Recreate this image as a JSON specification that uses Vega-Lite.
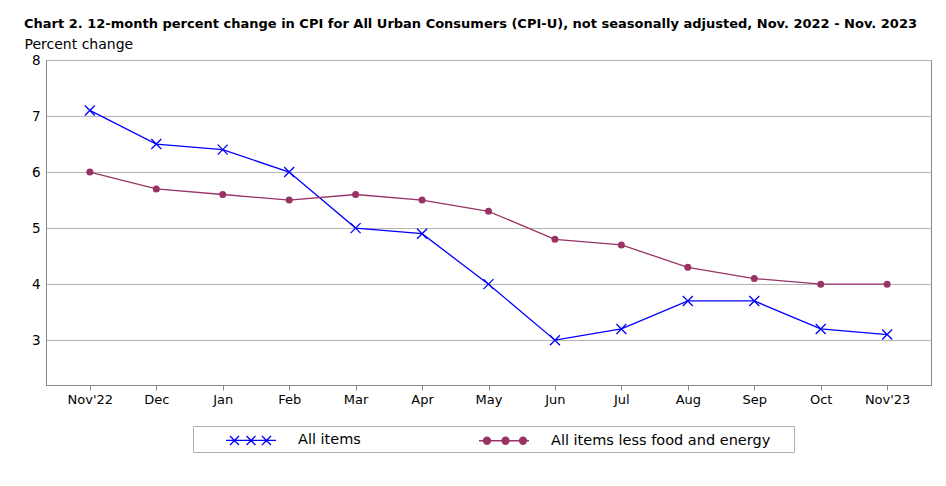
{
  "$schema": "https://vega.github.io/schema/vega-lite/v6.json",
  "width": 885,
  "height": 325,
  "autosize": "none",
  "padding": {"left": 46, "top": 60, "right": 15, "bottom": 101},
  "background": "white",
  "config": {
    "view": {"stroke": "#888888"},
    "font": "DejaVu Sans"
  },
  "title": {
    "text": "Chart 2. 12-month percent change in CPI for All Urban Consumers (CPI-U), not seasonally adjusted, Nov. 2022 - Nov. 2023",
    "anchor": "start",
    "frame": "group",
    "dx": -22,
    "font": "DejaVu Sans",
    "fontSize": 13,
    "fontWeight": "bold",
    "color": "black",
    "offset": 6
  },
  "data": {
    "values": [
      {"month": "Nov'22", "series": "All items", "value": 7.1},
      {"month": "Dec", "series": "All items", "value": 6.5},
      {"month": "Jan", "series": "All items", "value": 6.4},
      {"month": "Feb", "series": "All items", "value": 6.0},
      {"month": "Mar", "series": "All items", "value": 5.0},
      {"month": "Apr", "series": "All items", "value": 4.9},
      {"month": "May", "series": "All items", "value": 4.0},
      {"month": "Jun", "series": "All items", "value": 3.0},
      {"month": "Jul", "series": "All items", "value": 3.2},
      {"month": "Aug", "series": "All items", "value": 3.7},
      {"month": "Sep", "series": "All items", "value": 3.7},
      {"month": "Oct", "series": "All items", "value": 3.2},
      {"month": "Nov'23", "series": "All items", "value": 3.1},
      {"month": "Nov'22", "series": "All items less food and energy", "value": 6.0},
      {"month": "Dec", "series": "All items less food and energy", "value": 5.7},
      {"month": "Jan", "series": "All items less food and energy", "value": 5.6},
      {"month": "Feb", "series": "All items less food and energy", "value": 5.5},
      {"month": "Mar", "series": "All items less food and energy", "value": 5.6},
      {"month": "Apr", "series": "All items less food and energy", "value": 5.5},
      {"month": "May", "series": "All items less food and energy", "value": 5.3},
      {"month": "Jun", "series": "All items less food and energy", "value": 4.8},
      {"month": "Jul", "series": "All items less food and energy", "value": 4.7},
      {"month": "Aug", "series": "All items less food and energy", "value": 4.3},
      {"month": "Sep", "series": "All items less food and energy", "value": 4.1},
      {"month": "Oct", "series": "All items less food and energy", "value": 4.0},
      {"month": "Nov'23", "series": "All items less food and energy", "value": 4.0}
    ]
  },
  "encoding": {
    "x": {
      "field": "month",
      "type": "ordinal",
      "sort": null,
      "scale": {"type": "point", "padding": 0.66},
      "axis": {
        "title": null,
        "labelAngle": 0,
        "labelFontSize": 13,
        "labelColor": "black",
        "labelPadding": 3,
        "tickColor": "#888888",
        "tickSize": 5,
        "domainColor": "#888888",
        "grid": false
      }
    },
    "y": {
      "field": "value",
      "type": "quantitative",
      "scale": {"domain": [2.2, 8], "nice": false, "zero": false},
      "axis": {
        "title": "Percent change",
        "titleAngle": 0,
        "titleX": -22,
        "titleY": -12,
        "titleAlign": "left",
        "titleBaseline": "alphabetic",
        "titleFont": "DejaVu Sans",
        "titleFontSize": 14,
        "titleFontWeight": "normal",
        "titleColor": "black",
        "values": [3, 4, 5, 6, 7, 8],
        "grid": true,
        "gridColor": "#b4b4b4",
        "ticks": false,
        "labelPadding": 6,
        "labelFontSize": 13.5,
        "labelColor": "black",
        "domainColor": "#888888"
      }
    }
  },
  "layer": [
    {
      "mark": {"type": "line", "strokeWidth": 1.3},
      "encoding": {
        "color": {
          "field": "series",
          "type": "nominal",
          "scale": {
            "domain": ["All items", "All items less food and energy"],
            "range": ["#0000ff", "#993366"]
          },
          "legend": {
            "title": " ",
            "titleOrient": "right",
            "titlePadding": 20,
            "orient": "none",
            "legendX": 147,
            "legendY": 366,
            "direction": "horizontal",
            "padding": 4,
            "strokeColor": "#b0b0b0",
            "fillColor": "white",
            "symbolSize": 324,
            "symbolStrokeWidth": 1.3,
            "labelOffset": 81,
            "labelLimit": 400,
            "columnPadding": 89,
            "labelFontSize": 14.5,
            "labelColor": "black",
            "encode": {
              "symbols": {
                "update": {
                  "shape": {"signal": "datum.value === 'All items' ? 'M2.111,0L7.667,0M2.556,-0.5L3.556,0.5M2.556,0.5L3.556,-0.5M4.389,-0.5L5.389,0.5M4.389,0.5L5.389,-0.5M6.111,-0.5L7.111,0.5M6.111,0.5L7.111,-0.5' : 'M2.111,0L7.667,0M3.389,0A0.389,0.389 0 1,0 2.611,0A0.389,0.389 0 1,0 3.389,0ZM5.445,0A0.389,0.389 0 1,0 4.667,0A0.389,0.389 0 1,0 5.445,0ZM7.389,0A0.389,0.389 0 1,0 6.611,0A0.389,0.389 0 1,0 7.389,0Z'"},
                  "fill": {"signal": "datum.value === 'All items' ? 'transparent' : '#993366'"},
                  "stroke": {"signal": "datum.value === 'All items' ? '#0000ff' : '#993366'"},
                  "strokeWidth": {"value": 1.3},
                  "opacity": {"value": 1}
                }
              }
            }
          }
        }
      }
    },
    {
      "transform": [{"filter": "datum.series === 'All items'"}],
      "mark": {
        "type": "point",
        "shape": "M-1,-1L1,1M-1,1L1,-1",
        "size": 100,
        "stroke": "#0000ff",
        "strokeWidth": 1.3,
        "filled": false,
        "opacity": 1
      }
    },
    {
      "transform": [{"filter": "datum.series !== 'All items'"}],
      "mark": {"type": "circle", "size": 49, "color": "#993366", "opacity": 1}
    }
  ]
}
